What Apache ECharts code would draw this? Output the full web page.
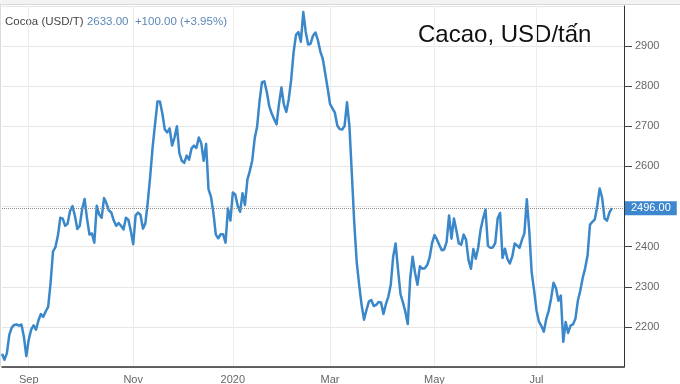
<!DOCTYPE html>
<html><head><meta charset="utf-8">
<script src="https://cdn.jsdelivr.net/npm/echarts@6/dist/echarts.min.js"></script>
<style>html,body{margin:0;padding:0;background:#fff}#c{width:680px;height:384px}</style>
</head><body><div id="c"></div>
<script>
// Trading calendar (ICE US softs): weekdays minus exchange holidays
const startDate = '2019-08-16';
const endDate = '2020-08-21';   // axis runs a few sessions past the last quote
const holidays = ['2019-09-02','2019-11-28','2019-12-25','2020-01-01','2020-01-20',
  '2020-02-17','2020-04-10','2020-05-25','2020-07-03'];

// Daily settlement, USD/t, 2019-08-16 .. 2020-08-14
const prices = [
 2133,2118,2134,2180,2198,2205,2206,2203,2206,2176,
 2127,2168,2193,2204,2193,2216,2232,2225,2239,2250,
 2310,2388,2399,2427,2472,2470,2452,2457,2489,2501,
 2477,2444,2452,2494,2519,2470,2430,2433,2410,2502,
 2480,2472,2521,2508,2490,2485,2465,2452,2459,2452,
 2443,2472,2467,2440,2406,2478,2485,2479,2445,2458,
 2511,2576,2648,2706,2762,2762,2732,2692,2685,2695,
 2652,2672,2700,2633,2614,2609,2627,2617,2645,2652,
 2646,2672,2658,2614,2656,2543,2525,2485,2430,2421,
 2431,2431,2410,2495,2465,2535,2530,2502,2487,2533,
 2504,2567,2589,2615,2670,2699,2763,2810,2812,2785,
 2750,2732,2718,2705,2756,2797,2755,2736,2767,2815,
 2884,2928,2935,2911,2985,2936,2904,2906,2926,2934,
 2915,2887,2869,2833,2796,2756,2745,2734,2702,2693,
 2692,2701,2760,2700,2580,2457,2361,2305,2255,2218,
 2242,2263,2267,2252,2255,2262,2261,2232,2257,2275,
 2305,2375,2408,2342,2282,2261,2238,2207,2320,2375,
 2335,2305,2351,2345,2346,2354,2373,2409,2429,2418,
 2404,2391,2393,2412,2478,2420,2470,2441,2408,2405,
 2430,2417,2367,2345,2394,2370,2398,2443,2470,2492,
 2402,2397,2398,2409,2470,2484,2372,2395,2370,2358,
 2375,2408,2403,2397,2417,2433,2518,2440,2336,2291,
 2241,2213,2202,2188,2220,2240,2271,2310,2297,2265,
 2278,2163,2212,2185,2203,2206,2220,2265,2290,2322,
 2346,2378,2455,2462,2468,2502,2545,2522,2470,2465,
 2485,2496
];
const lastPrice = 2496;
const headerName = 'Cocoa (USD/T)';
const headerQuote = '2633.00  +100.00 (+3.95%)';
const chartTitle = 'Cacao, USD/tấn';
// month (0-based) -> x tick label, shown at the first session of that month
const monthLabels = {8:'Sep', 10:'Nov', 0:'2020', 2:'Mar', 4:'May', 6:'Jul'};
const yMin = 2100, yMax = 3000, yStep = 100;

function tradingDays(a, b, hol) {
  const out = [];
  const d = new Date(a + 'T00:00:00Z'), e = new Date(b + 'T00:00:00Z');
  while (d <= e) {
    const s = d.toISOString().slice(0, 10), wd = d.getUTCDay();
    if (wd !== 0 && wd !== 6 && hol.indexOf(s) < 0) out.push(s);
    d.setUTCDate(d.getUTCDate() + 1);
  }
  return out;
}
const dates = tradingDays(startDate, endDate, holidays);
const labelIdx = {};
dates.forEach((s, i) => {
  const m = +s.slice(5, 7) - 1;
  if (i > 0 && s.slice(5, 7) !== dates[i - 1].slice(5, 7) && monthLabels[m] !== undefined) labelIdx[i] = monthLabels[m];
});
const isLabel = (i) => labelIdx[i] !== undefined;

const chart = echarts.init(document.getElementById('c'), null, {renderer: 'canvas'});
chart.setOption({
  animation: false,
  backgroundColor: '#fff',
  grid: {left: 2, right: 56, top: 6, bottom: 17, containLabel: false, outerBoundsMode: 'none'},
  xAxis: {
    type: 'category', data: dates, boundaryGap: false,
    axisLine: {show: true, lineStyle: {color: '#333', width: 1.5}},
    axisTick: {show: false},
    axisLabel: {interval: (i) => isLabel(i), formatter: (v, i) => labelIdx[i] || '',
      color: '#666', fontSize: 11, margin: 7, fontFamily: 'Liberation Sans, Arial, sans-serif'},
    splitLine: {show: true, interval: (i) => isLabel(i), lineStyle: {color: '#ececec', width: 1}}
  },
  yAxis: {
    type: 'value', position: 'right', min: yMin, max: yMax, interval: yStep, scale: true,
    axisLine: {show: true, lineStyle: {color: '#333', width: 1}},
    axisTick: {show: true, length: 8, inside: false, lineStyle: {color: '#444'}},
    axisLabel: {showMinLabel: false, showMaxLabel: false, color: '#666', fontSize: 11, margin: 11,
      formatter: (v) => String(v),
      fontFamily: 'Liberation Sans, Arial, sans-serif'},
    splitLine: {show: true, lineStyle: {color: '#e6e6e6', width: 1}}
  },
  series: [{
    type: 'line', data: prices, showSymbol: false, symbol: 'none', smooth: false,
    lineStyle: {color: '#3a87c9', width: 2.5, join: 'round'},
    itemStyle: {color: '#3a87c9'},
    emphasis: {disabled: true},
    markLine: {
      silent: true, symbol: ['none', 'none'], animation: false,
      lineStyle: {type: 'dotted', color: '#8c8c8c', width: 1},
      label: {show: true, position: 'end', distance: 1, formatter: lastPrice.toFixed(2),
        color: '#fff', backgroundColor: '#3d87cf', padding: [2, 6, 1, 6], fontSize: 11,
        fontFamily: 'Liberation Sans, Arial, sans-serif'},
      data: [{yAxis: lastPrice}]
    }
  }],
  graphic: [
    {type: 'rect', left: 0, top: 0, shape: {width: 680, height: 4}, style: {fill: '#f3f3f3'}, silent: true},
    {type: 'line', shape: {x1: 0, y1: 4.5, x2: 680, y2: 4.5}, style: {stroke: '#d8d8d8', lineWidth: 1}, silent: true},
    {type: 'line', shape: {x1: 0.5, y1: 5, x2: 0.5, y2: 367}, style: {stroke: '#dcdcdc', lineWidth: 1}, silent: true},
    {type: 'text', x: 5, y: 22, silent: true, style: {
      text: '{a|' + headerName + '} {b|' + headerQuote + '}', verticalAlign: 'middle',
      rich: {a: {fill: '#444', fontSize: 11.5, fontFamily: 'Liberation Sans, Arial, sans-serif'},
             b: {fill: '#5a88b8', fontSize: 11.5, fontFamily: 'Liberation Sans, Arial, sans-serif'}}}},
    {type: 'text', x: 418, y: 35, silent: true, style: {
      text: chartTitle, fill: '#111', fontSize: 24, verticalAlign: 'middle',
      fontFamily: 'Liberation Sans, Arial, sans-serif'}}
  ]
});
</script></body></html>
